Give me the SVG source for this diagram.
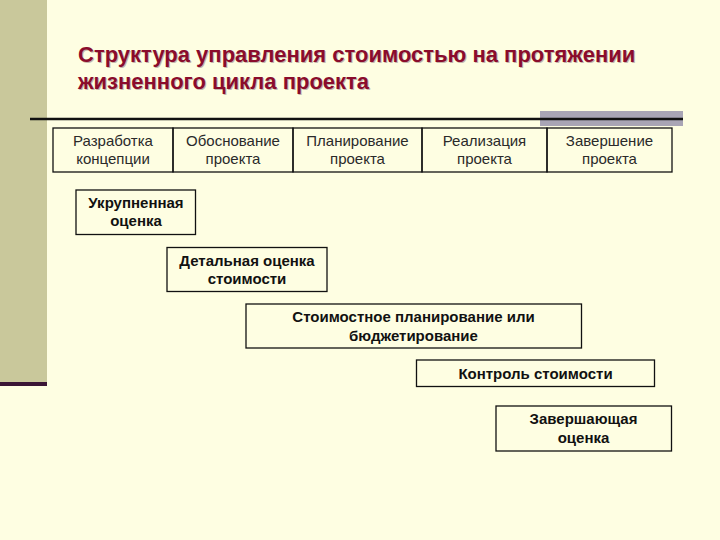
<svg xmlns="http://www.w3.org/2000/svg" width="720" height="540" viewBox="0 0 720 540">
<style>
.title{font-family:"Liberation Sans",Arial,sans-serif;font-size:22px;font-weight:bold;fill:#8a0c2c}
.shadow{font-family:"Liberation Sans",Arial,sans-serif;font-size:22px;font-weight:bold;fill:#c4b6aa}
.phase{font-family:"Liberation Sans",Arial,sans-serif;font-size:15px;fill:#2a2a2a;text-anchor:middle}
.box rect{fill:none;stroke:#111;stroke-width:1.3}
.box text{font-family:"Liberation Sans",Arial,sans-serif;font-size:15px;font-weight:bold;fill:#111;text-anchor:middle}
.cell{fill:none;stroke:#111;stroke-width:1.3}
</style>
<rect width="720" height="540" fill="#fefee2"/>
<rect x="0" y="0" width="47" height="382" fill="#c9c89b"/>
<rect x="0" y="382" width="47" height="4" fill="#3a1535"/>
<g id="title">
<text class="shadow" x="79" y="63">Структура управления стоимостью на протяжении</text>
<text class="shadow" x="79" y="90">жизненного цикла проекта</text>
<text class="title" x="78" y="62">Структура управления стоимостью на протяжении</text>
<text class="title" x="78" y="89">жизненного цикла проекта</text>
</g>
<rect x="540" y="111" width="143" height="15" fill="#a9a5b5"/>
<line x1="30" y1="119" x2="683" y2="119" stroke="#111" stroke-width="2.5"/>
<g id="phases">
<g id="phase1"><rect class="cell" x="53" y="128" width="120" height="44"/><text class="phase" x="113" y="146">Разработка</text><text class="phase" x="113" y="164">концепции</text></g>
<g id="phase2"><rect class="cell" x="173" y="128" width="120" height="44"/><text class="phase" x="233" y="146">Обоснование</text><text class="phase" x="233" y="164">проекта</text></g>
<g id="phase3"><rect class="cell" x="293" y="128" width="129" height="44"/><text class="phase" x="357.5" y="146">Планирование</text><text class="phase" x="357.5" y="164">проекта</text></g>
<g id="phase4"><rect class="cell" x="422" y="128" width="125" height="44"/><text class="phase" x="484.5" y="146">Реализация</text><text class="phase" x="484.5" y="164">проекта</text></g>
<g id="phase5"><rect class="cell" x="547" y="128" width="125" height="44"/><text class="phase" x="609.5" y="146">Завершение</text><text class="phase" x="609.5" y="164">проекта</text></g>
</g>
<g id="n1" class="box"><rect x="76" y="190" width="119.5" height="44.5"/><text x="136" y="207.5">Укрупненная</text><text x="136" y="225.5">оценка</text></g>
<g id="n2" class="box"><rect x="167" y="247.5" width="160" height="44"/><text x="247" y="265.5">Детальная оценка</text><text x="247" y="284">стоимости</text></g>
<g id="n3" class="box"><rect x="246" y="304" width="335.5" height="44"/><text x="413.5" y="322">Стоимостное планирование или</text><text x="413.5" y="340.5">бюджетирование</text></g>
<g id="n4" class="box"><rect x="416.5" y="360" width="238" height="26.5"/><text x="535.5" y="378.5">Контроль стоимости</text></g>
<g id="n5" class="box"><rect x="496" y="406" width="175.5" height="45"/><text x="583.5" y="424">Завершающая</text><text x="583.5" y="442.5">оценка</text></g>
<g id="connectors"/>
</svg>
